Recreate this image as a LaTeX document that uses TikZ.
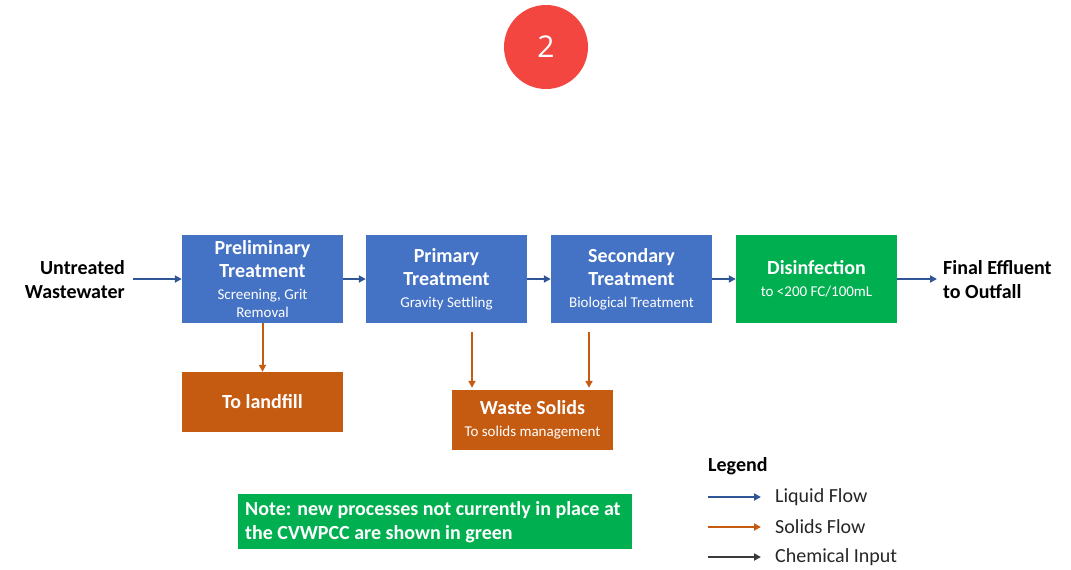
\documentclass[tikz,border=0pt]{standalone}
\usepackage{fontspec}
\setmainfont{Carlito}
\newfontfamily\numfont{Open Sans}
\usetikzlibrary{arrows.meta}
\definecolor{procblue}{HTML}{4472C4}
\definecolor{flowblue}{HTML}{2F5597}
\definecolor{newgreen}{HTML}{00B050}
\definecolor{solidorange}{HTML}{C55A11}
\definecolor{badgered}{HTML}{F44640}
\definecolor{chemgray}{HTML}{3A3A3A}
\newcommand{\ttl}[1]{{\fontsize{20}{23}\selectfont\bfseries #1}}
\newcommand{\subl}[1]{{\fontsize{15}{18}\selectfont #1}}
\tikzset{
  procbox/.style={rectangle, fill=procblue, text=white, minimum width=161pt, minimum height=88pt, inner sep=0pt, align=center, font=\fontsize{20}{23}\selectfont},
  newbox/.style={procbox, fill=newgreen},
  solidbox/.style={rectangle, fill=solidorange, text=white, minimum width=161pt, minimum height=60pt, inner sep=0pt, align=center, font=\fontsize{20}{23}\selectfont},
  liquid/.style={draw=flowblue, line width=2pt, -{Triangle[length=7pt,width=7pt]}},
  solids/.style={draw=solidorange, line width=2pt, -{Triangle[length=7pt,width=7pt]}},
  chem/.style={draw=chemgray, line width=2pt, -{Triangle[length=7pt,width=7pt]}},
  endlabel/.style={font=\fontsize{20}{24}\selectfont\bfseries, inner sep=0pt},
  legendtext/.style={font=\fontsize{20}{22}\selectfont, anchor=west, inner sep=0pt, text=black!85}
}
\begin{document}
\begin{tikzpicture}[x=1pt,y=-1pt]
  \useasboundingbox (0,0) rectangle (1071,570);

  % step badge
  \node[circle, fill=badgered, minimum size=84pt, inner sep=0pt, text=white, font=\numfont\fontsize{30}{30}\selectfont] (badge) at (546,47) {2};

  % main liquid train
  \node[endlabel, align=right, anchor=east] (influent) at (125,280) {Untreated\\Wastewater};
  \node[procbox] (prelim) at (262.5,279) {\ttl{Preliminary}\\\ttl{Treatment}\\[-1pt]\subl{Screening, Grit}\\[-5pt]\subl{Removal}};
  \node[procbox] (primary) at (446.5,279) {\ttl{Primary}\\\ttl{Treatment}\\[-1pt]\subl{Gravity Settling}};
  \node[procbox] (secondary) at (631.5,279) {\ttl{Secondary}\\\ttl{Treatment}\\[-1pt]\subl{Biological Treatment}};
  \node[newbox] (disinf) at (816.5,279) {\ttl{Disinfection}\\[-1pt]\subl{to <200 FC/100mL}};
  \node[endlabel, align=left, anchor=west] (effluent) at (943,280) {Final Effluent\\to Outfall};

  \draw[liquid, shorten <=8pt] (influent.east |- prelim.west) -- (prelim.west);
  \draw[liquid] (prelim) -- (primary);
  \draw[liquid] (primary) -- (secondary);
  \draw[liquid] (secondary) -- (disinf);
  \draw[liquid, shorten >=6pt] (disinf) -- (effluent.west |- disinf.east);

  % solids handling
  \node[solidbox] (landfill) at (262.5,402) {\ttl{To landfill}};
  \node[solidbox] (waste) at (532.5,420) {\ttl{Waste Solids}\\[-1pt]\subl{To solids management}};

  \coordinate (primOut) at (472,332);
  \coordinate (secOut) at (589,332);
  \draw[solids] (prelim.south) -- (landfill.north);
  \draw[solids, shorten >=2pt] (primOut) -- (primOut |- waste.north);
  \draw[solids, shorten >=2pt] (secOut) -- (secOut |- waste.north);

  % note
  \node[rectangle, fill=newgreen, minimum width=394pt, minimum height=55pt, inner sep=0pt, anchor=north west] (note) at (238,494) {};
  \node[font=\fontsize{20}{24}\selectfont\bfseries, text=white, align=left, anchor=west, inner sep=0pt] (notetext) at (245,522) {Note: new processes not currently in place at\\the CVWPCC are shown in green};

  % legend
  \node[font=\fontsize{20}{22}\selectfont\bfseries, anchor=west, inner sep=0pt] (legend) at (708,466) {Legend};
  \coordinate (l1s) at (708,497); \coordinate (l1e) at (761,497);
  \coordinate (l2s) at (708,527); \coordinate (l2e) at (761,527);
  \coordinate (l3s) at (708,557); \coordinate (l3e) at (761,557);
  \draw[liquid] (l1s) -- (l1e);
  \draw[solids] (l2s) -- (l2e);
  \draw[chem] (l3s) -- (l3e);
  \node[legendtext] (lq) at (775,497) {Liquid Flow};
  \node[legendtext] (ls) at (775,527) {Solids Flow};
  \node[legendtext] (lc) at (775,557) {Chemical Input};
\end{tikzpicture}
\end{document}
